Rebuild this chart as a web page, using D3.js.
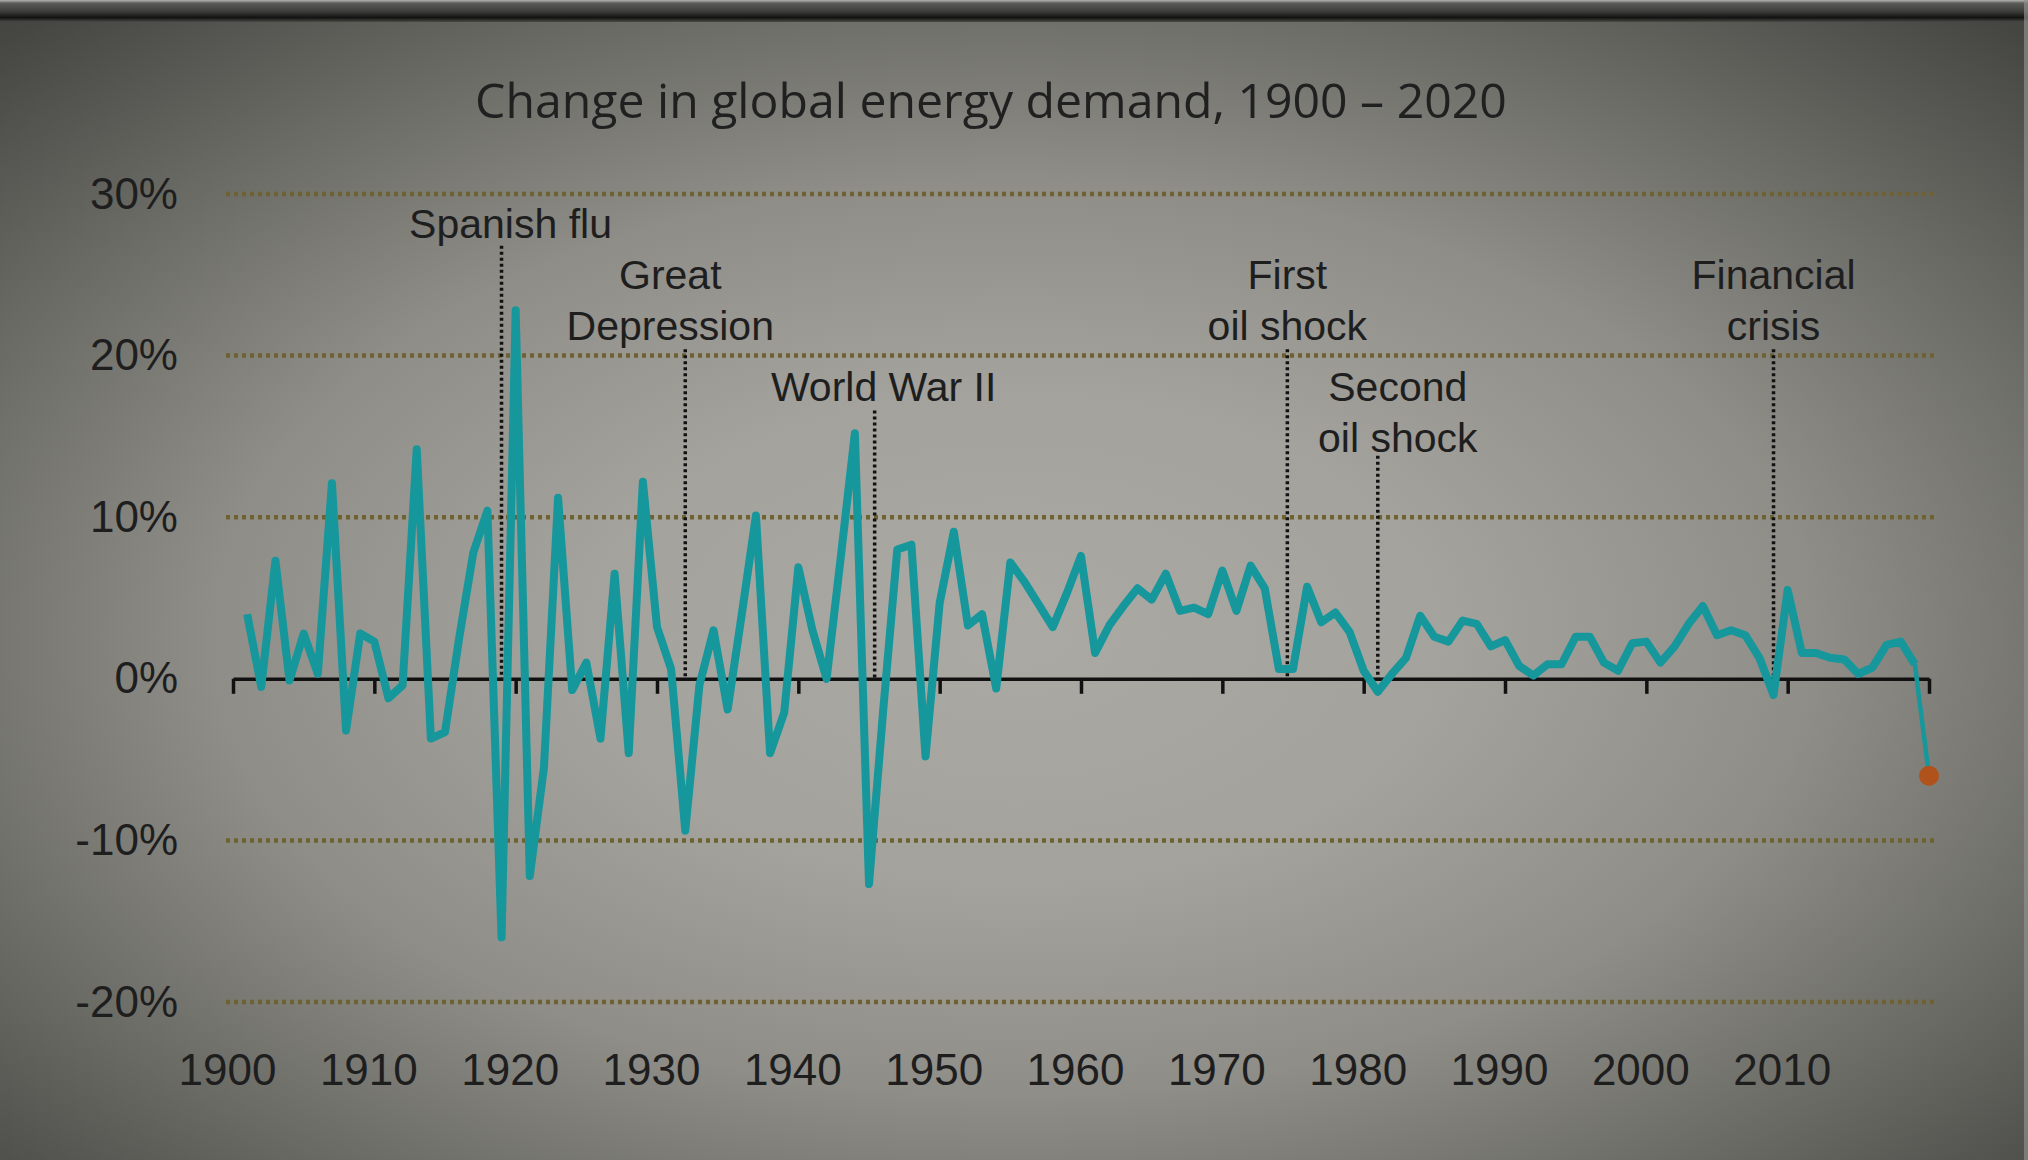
<!DOCTYPE html>
<html>
<head>
<meta charset="utf-8">
<script src="https://cdn.jsdelivr.net/npm/d3@7"></script>
<style>
  html, body { margin: 0; padding: 0; background: #3c3d38; }
  svg { display: block; }
</style>
</head>
<body>
<div class="container_main"></div>
<script>
// yearly change in global energy demand, %
const years = d3.range(1901, 2021);
const demandChange = [
   4.0, -0.5,  7.3, -0.1,  2.8,  0.3, 12.1, -3.2,  2.8,  2.3,   // 1901-1910
  -1.2, -0.4, 14.2, -3.7, -3.3,  2.5,  7.8, 10.4,-16.0, 22.8,   // 1911-1920
 -12.2, -5.5, 11.2, -0.7,  1.0, -3.7,  6.5, -4.6, 12.2,  3.2,   // 1921-1930
   0.6, -9.4, -0.4,  3.0, -1.9,  4.0, 10.1, -4.6, -2.1,  6.9,   // 1931-1940
   3.0,  0.0,  7.5, 15.2,-12.7, -2.0,  8.0,  8.3, -4.8,  4.7,   // 1941-1950
   9.1,  3.3,  4.0, -0.6,  7.2,  6.0,  4.6,  3.2,  5.3,  7.6,   // 1951-1960
   1.6,  3.3,  4.5,  5.6,  4.9,  6.5,  4.2,  4.4,  4.0,  6.7,   // 1961-1970
   4.2,  7.0,  5.6,  0.6,  0.6,  5.7,  3.5,  4.1,  2.9,  0.5,   // 1971-1980
  -0.8,  0.3,  1.3,  3.9,  2.6,  2.3,  3.6,  3.4,  2.0,  2.4,   // 1981-1990
   0.8,  0.2,  0.9,  0.9,  2.6,  2.6,  1.0,  0.5,  2.2,  2.3,   // 1991-2000
   1.0,  2.0,  3.4,  4.5,  2.7,  3.0,  2.7,  1.3, -1.0,  5.5,   // 2001-2010
   1.6,  1.6,  1.3,  1.2,  0.3,  0.7,  2.1,  2.3,  0.9, -6.0    // 2011-2020
];
const yTicks = [-20, -10, 0, 10, 20, 30];
const xTicks = d3.range(1900, 2021, 10);

// events marked with a dotted line
const eventNames = [["Spanish flu"], ["Great", "Depression"], ["World War II"],
                    ["First", "oil shock"], ["Second", "oil shock"], ["Financial", "crisis"]];
const eventYears = [1919, 1932, 1945.4, 1974.6, 1981, 2009];
const eventTops  = [26.8, 20.4, 16.6, 20.4, 13.8, 20.4];

const data = years.map((y, i) => ({year: y, value: demandChange[i]}));

const W = 2028, H = 1160;
const svg = d3.select(".container_main").append("svg")
    .attr("width", W).attr("height", H);

// background: the slide is lit in the middle and darker towards the edges
const defs = svg.append("defs");
const bg = defs.append("radialGradient").attr("id", "bg")
    .attr("cx", "50%").attr("cy", "55%").attr("r", "72%")
    .attr("fx", "50%").attr("fy", "55%");
[["0%", "#aaa9a3"], ["30%", "#a3a29c"], ["55%", "#8e8d88"], ["78%", "#6a6a65"], ["100%", "#454641"]]
  .forEach(s => bg.append("stop").attr("offset", s[0]).attr("stop-color", s[1]));
svg.append("rect").attr("width", W).attr("height", H).attr("fill", "url(#bg)");

const band = defs.append("linearGradient").attr("id", "band").attr("x1", 0).attr("x2", 0).attr("y1", 0).attr("y2", 1);
[["0%", "#b4b4b2"], ["15%", "#5a5a57"], ["55%", "#3a3a37"], ["80%", "#121210"], ["100%", "#4a4a46"]]
  .forEach(s => band.append("stop").attr("offset", s[0]).attr("stop-color", s[1]));
svg.append("rect").attr("width", W).attr("height", 22).attr("fill", "url(#band)");
svg.append("rect").attr("x", W - 4).attr("width", 4).attr("height", H).attr("fill", "#8f8f8b").attr("opacity", 0.7);

// scales
const x = d3.scaleLinear().domain([1900, 2020]).range([233, 1929]);
const y = d3.scaleLinear().domain([-20, 30]).range([1002, 194]);

// title
const title = svg.append("text")
    .attr("x", 991).attr("y", 118)
    .attr("text-anchor", "middle")
    .attr("font-family", "Open Sans, Noto Sans, sans-serif")
    .attr("font-size", 40)
    .attr("fill", "#202020")
    .text("Change in global energy demand, 1900 \u2013 2020");
const tw = title.node().getComputedTextLength();
title.attr("font-size", 40 * 1032 / tw);

// dotted gridlines
svg.append("g").selectAll("line")
  .data(yTicks.filter(d => d !== 0))
  .join("line")
    .attr("x1", 226).attr("x2", 1936)
    .attr("y1", d => y(d)).attr("y2", d => y(d))
    .attr("stroke", "#6e6230")
    .attr("stroke-width", 4.5)
    .attr("stroke-dasharray", "4 4");

// y axis labels
const yAxis = svg.append("g")
    .attr("transform", "translate(226,0)")
    .call(d3.axisLeft(y).tickValues(yTicks).tickSize(0).tickPadding(48).tickFormat(d => d + "%"));
yAxis.select(".domain").remove();
yAxis.selectAll("text")
    .attr("font-family", "Liberation Sans, Arial, sans-serif")
    .attr("font-size", 44)
    .attr("fill", "#1e1e1e");

// event markers
const ev = svg.append("g");
eventYears.forEach((yr, i) => {
  ev.append("line")
    .attr("x1", x(yr)).attr("x2", x(yr))
    .attr("y1", y(eventTops[i])).attr("y2", y(0))
    .attr("stroke", "#111")
    .attr("stroke-width", 3.5)
    .attr("stroke-dasharray", "3 3");
});
const labelDx = [9, -15, 9, 0, 20, 0];
const labelTopY = [238, 289, 401, 289, 401, 289];
eventNames.forEach((lines, i) => {
  const t = ev.append("text")
      .attr("text-anchor", "middle")
      .attr("font-family", "Liberation Sans, Arial, sans-serif")
      .attr("font-size", 41)
      .attr("fill", "#1e1e1e");
  lines.forEach((s, j) => {
    t.append("tspan")
      .attr("x", x(eventYears[i]) + labelDx[i])
      .attr("y", labelTopY[i] + j * 50.5)
      .text(s);
  });
});

// zero axis with decade ticks
const xAxis = svg.append("g")
    .attr("transform", "translate(0," + y(0) + ")")
    .call(d3.axisBottom(x).tickValues(xTicks).tickSize(15).tickSizeOuter(0).tickFormat(""));
xAxis.select(".domain").attr("stroke", "#111").attr("stroke-width", 3.5);
xAxis.selectAll(".tick line").attr("stroke", "#111").attr("stroke-width", 3.5);

// year labels at the bottom
const xLab = svg.append("g")
    .attr("transform", "translate(-6,1051)")
    .call(d3.axisBottom(x).tickValues(xTicks.filter(d => d < 2020)).tickSize(0).tickFormat(d3.format("d")));
xLab.select(".domain").remove();
xLab.selectAll("text")
    .attr("font-family", "Liberation Sans, Arial, sans-serif")
    .attr("font-size", 44)
    .attr("fill", "#1e1e1e");

// the demand line
const line = d3.line().x(d => x(d.year)).y(d => y(d.value));
svg.append("path")
    .datum(data.slice(0, data.length - 1))
    .attr("fill", "none")
    .attr("stroke", "#16979c")
    .attr("stroke-width", 8)
    .attr("stroke-linejoin", "round")
    .attr("d", line);
svg.append("path")
    .datum(data.slice(data.length - 2))
    .attr("fill", "none")
    .attr("stroke", "#16979c")
    .attr("stroke-width", 4.5)
    .attr("d", line);

// 2020 estimate
const last = data[data.length - 1];
svg.append("circle")
    .attr("cx", x(last.year)).attr("cy", y(last.value))
    .attr("r", 10)
    .attr("fill", "#b0521c");
</script>
</body>
</html>
